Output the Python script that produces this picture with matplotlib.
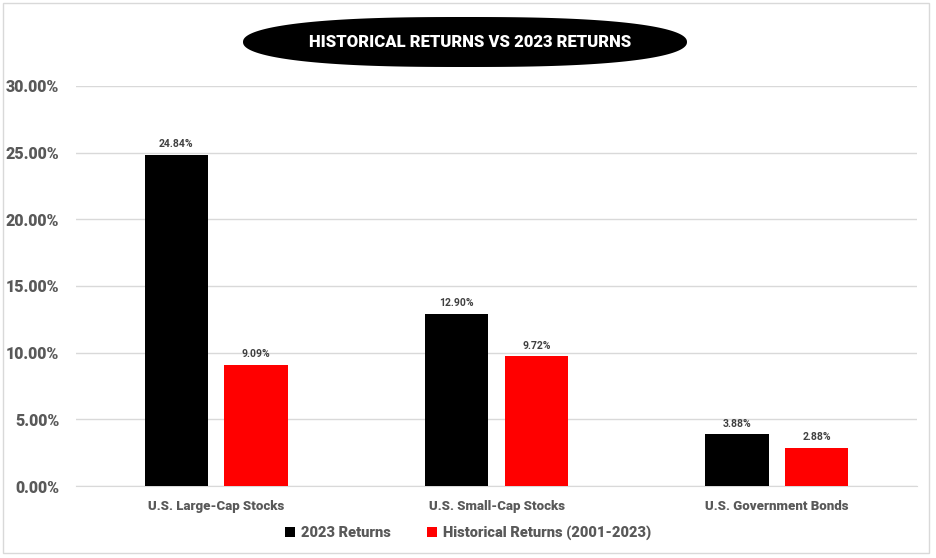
import numpy as np
import matplotlib.pyplot as plt
from matplotlib.patches import Polygon, Rectangle
from matplotlib.ticker import PercentFormatter

plt.rcParams['font.family'] = ['Roboto', 'DejaVu Sans']

# данные
categories = ['U.S. Large-Cap Stocks', 'U.S. Small-Cap Stocks', 'U.S. Government Bonds']
returns_2023 = [24.84, 12.90, 3.88]
returns_hist = [9.09, 9.72, 2.88]
series_names = ['2023 Returns', 'Historical Returns (2001-2023)']

gray = '#595959'

fig = plt.figure(figsize=(9.36, 5.58), dpi=100)
ax = fig.add_axes([0.0812, 0.129, 0.8985, 0.717])

x = np.arange(len(categories))
w = 0.225
b1 = ax.bar(x - 0.142, returns_2023, w, color='black', label=series_names[0], zorder=3)
b2 = ax.bar(x + 0.142, returns_hist, w, color='#ff0000', label=series_names[1], zorder=3)

for bars in (b1, b2):
    ax.bar_label(bars, labels=[f'{v:.2f}%' for v in bars.datavalues], padding=4,
                 fontsize=7.5, fontweight='bold', color='#404040')

ax.set_xlim(-0.5, 2.5)
ax.set_ylim(0, 30)
ax.set_yticks(np.arange(0, 31, 5))
ax.yaxis.set_major_formatter(PercentFormatter(decimals=2))
ax.grid(axis='y', color='#d9d9d9', linewidth=1, zorder=0)
ax.set_xticks(x)
ax.set_xticklabels(categories)
ax.tick_params(axis='y', length=0, pad=12, labelsize=11.5, labelcolor=gray)
ax.tick_params(axis='x', length=0, pad=10, labelsize=9.5, labelcolor=gray)
for lab in ax.get_xticklabels() + ax.get_yticklabels():
    lab.set_fontweight('heavy')
for s in ['top', 'right', 'left']:
    ax.spines[s].set_visible(False)
ax.spines['bottom'].set_color('#d9d9d9')

leg = ax.legend(loc='center', bbox_to_anchor=(0.5, 0.045), bbox_transform=fig.transFigure,
                ncol=2, frameon=False, handlelength=0.7, handleheight=0.7,
                handletextpad=0.4, columnspacing=2.5,
                prop={'weight': 'heavy', 'size': 10.5})
for t in leg.get_texts():
    t.set_color(gray)

# рамка
fig.patches.append(Rectangle((0.003, 0.009), 0.989, 0.985, transform=fig.transFigure,
                             fill=False, edgecolor='#d9d9d9', linewidth=1))

# заголовок в чёрном овале
t = np.linspace(0, 2 * np.pi, 200)
cx, cy, rx, ry = 465 / 936, 1 - 42 / 558, 222 / 936, 25 / 558
px = cx + rx * np.sign(np.cos(t)) * np.abs(np.cos(t)) ** (2 / 2.6)
py = cy + ry * np.sign(np.sin(t)) * np.abs(np.sin(t)) ** (2 / 2.2)
fig.patches.append(Polygon(np.column_stack([px, py]), closed=True, transform=fig.transFigure,
                           facecolor='black', edgecolor='none'))
fig.text(470 / 936, cy, 'HISTORICAL RETURNS VS 2023 RETURNS', ha='center', va='center',
         color='white', fontsize=12, fontweight='heavy')

fig.savefig('out.png', dpi=100)
